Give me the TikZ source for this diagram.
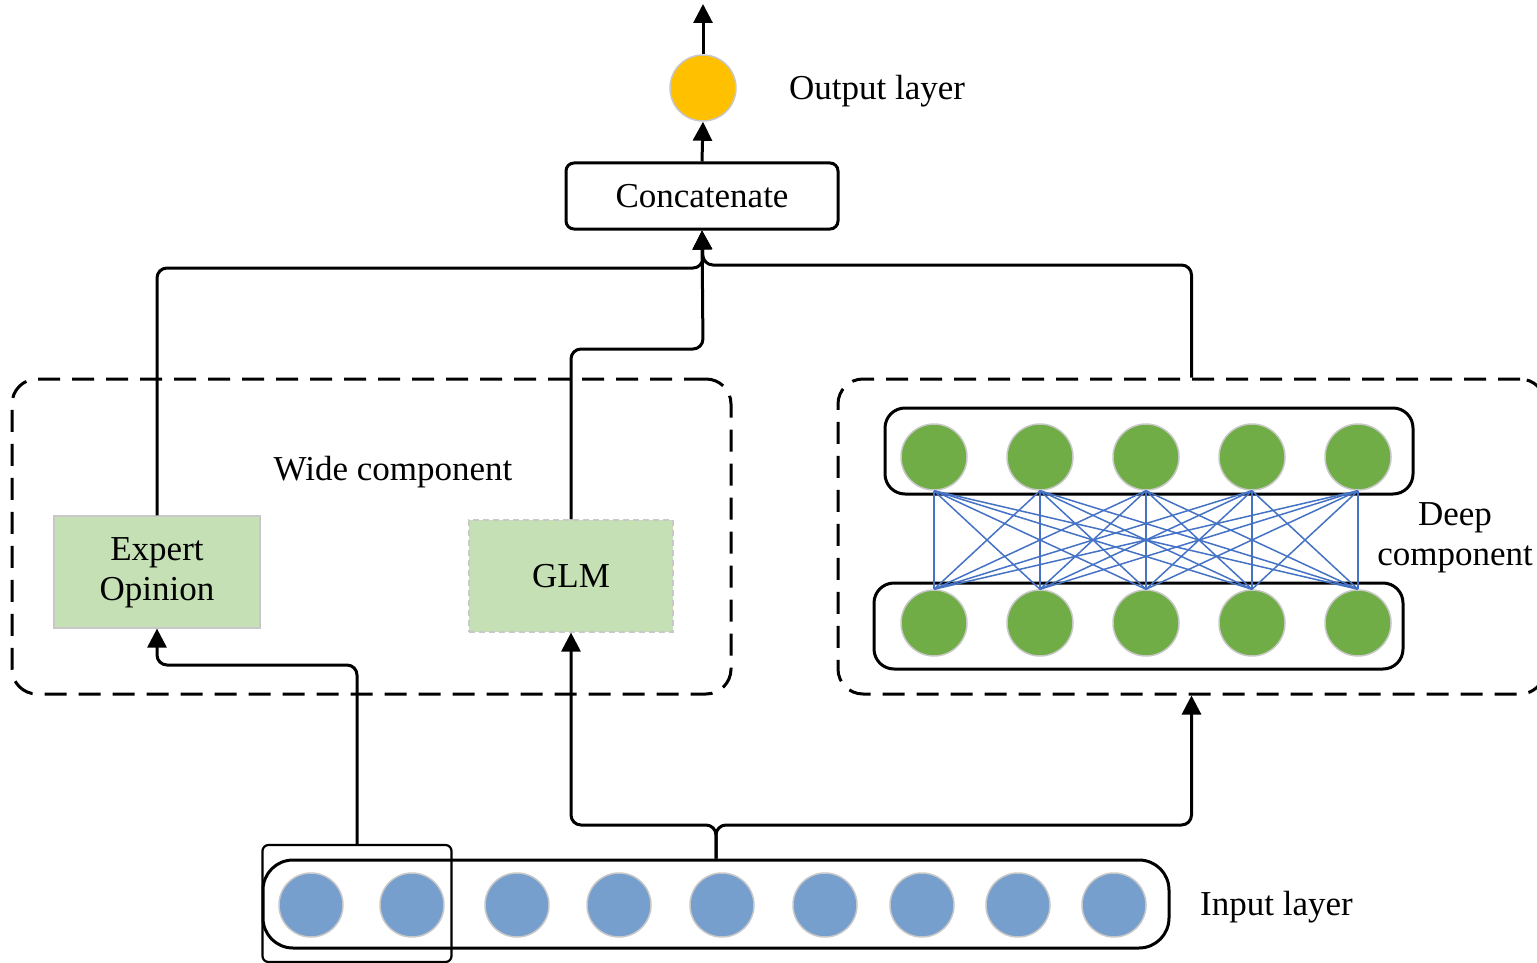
\documentclass[tikz,border=0pt]{standalone}
\usepackage{fontspec}
\setmainfont{Liberation Serif}
\usetikzlibrary{arrows.meta}
\definecolor{outorange}{HTML}{FFC000}
\definecolor{boxgreen}{HTML}{C5E0B4}
\definecolor{unitgreen}{HTML}{70AD47}
\definecolor{unitblue}{HTML}{779FCD}
\definecolor{netblue}{HTML}{4472C4}
\definecolor{rimgray}{HTML}{C8C8C8}
\tikzset{
  lbl/.style={font=\fontsize{35}{40}\selectfont, inner sep=0pt, align=center},
  conn/.style={line width=3pt, rounded corners=10pt, -{Triangle[length=19pt,width=19pt]}},
  groupbox/.style={draw, dash pattern=on 22pt off 12pt, line width=3pt, rounded corners=25pt, inner sep=0pt},
  layerbox/.style={draw, line width=3pt, rounded corners=20pt, inner sep=0pt},
  greenbox/.style={fill=boxgreen, draw=rimgray, line width=1.2pt, inner sep=0pt, lbl},
  unit/.style={circle, minimum size=66pt, inner sep=0pt, draw=rimgray, line width=1.5pt},
  netline/.style={draw=netblue, line width=1.5pt},
}
\begin{document}
\begin{tikzpicture}[x=1pt,y=-1pt]
\useasboundingbox (0,0) rectangle (1537,963);

% output part
\node[unit, fill=outorange] (out) at (703,88) {};
\coordinate (outtip) at (703,4);
\node[lbl, anchor=west] (outlbl) at (789,91) {Output layer};
\node[draw, line width=3pt, rounded corners=8pt, minimum width=272pt, minimum height=66pt, lbl] (concat) at (702,196) {Concatenate};
\draw[conn] (concat.north) -- (out.south);
\draw[conn] (out.north) -- (outtip);

% component groups
\node[groupbox, minimum width=719pt, minimum height=315pt] (wide) at (371.5,536.5) {};
\node[groupbox, minimum width=707pt, minimum height=315pt] (deep) at (1191.5,536.5) {};
\node[lbl] (widelbl) at (393,472) {Wide component};
\node[lbl] (deeplbl) at (1455,538) {Deep\\component};

% wide part
\node[greenbox, minimum width=206pt, minimum height=112pt] (expert) at (157,572) {\raisebox{-3pt}{\begin{tabular}{@{}c@{}}Expert\\Opinion\end{tabular}}};
\node[greenbox, draw=rimgray, dash pattern=on 6pt off 4pt, minimum width=204pt, minimum height=112pt] (glm) at (571,576) {GLM};

% deep part
\node[layerbox, minimum width=528pt, minimum height=86pt] (toplayer) at (1149,451) {};
\node[layerbox, minimum width=529pt, minimum height=86pt] (botlayer) at (1138.5,626) {};
\foreach \i/\x in {1/934,2/1040,3/1146,4/1252,5/1358}{
  \node[unit, fill=unitgreen] (g\i) at (\x,457) {};
  \node[unit, fill=unitgreen] (h\i) at (\x,623) {};
}
\foreach \i in {1,...,5}{
  \foreach \j in {1,...,5}{
    \draw[netline] (g\i.south) -- (h\j.north);
  }
}

% input layer
\node[draw, line width=3pt, rounded corners=30pt, minimum width=906pt, minimum height=88pt, inner sep=0pt] (input) at (716,904) {};
\node[draw, line width=2.2pt, rounded corners=6pt, minimum width=189pt, minimum height=117pt, inner sep=0pt] (sel) at (357,903.5) {};
\foreach \i/\x in {1/311,2/412,3/517,4/619,5/722,6/825,7/922,8/1018,9/1114}{
  \node[unit, fill=unitblue, minimum size=64pt] (i\i) at (\x,905) {};
}
\node[lbl, anchor=west] (inlbl) at (1200,907) {Input layer};

% junction corners
\coordinate (jexp) at (703,268);
\coordinate (jglm) at (703,349);
\coordinate (jdeep) at (703,265);
\coordinate (jsel) at (157,665);
\coordinate (jinl) at (571,825);
\coordinate (jinr) at (1191.5,825);

% connectors into concatenate
\draw[conn] (expert.north) |- (jexp) -- (concat.south);
\draw[conn] (glm.north) |- (jglm) -- (concat.south);
\draw[conn] (deep.north) |- (jdeep) -- (concat.south);

% connectors from the input layer
\draw[conn] (sel.north) |- (jsel) -- (expert.south);
\draw[conn] (input.north) |- (jinl) -- (glm.south);
\draw[conn] (input.north) |- (jinr) -- (deep.south);
\end{tikzpicture}
\end{document}
